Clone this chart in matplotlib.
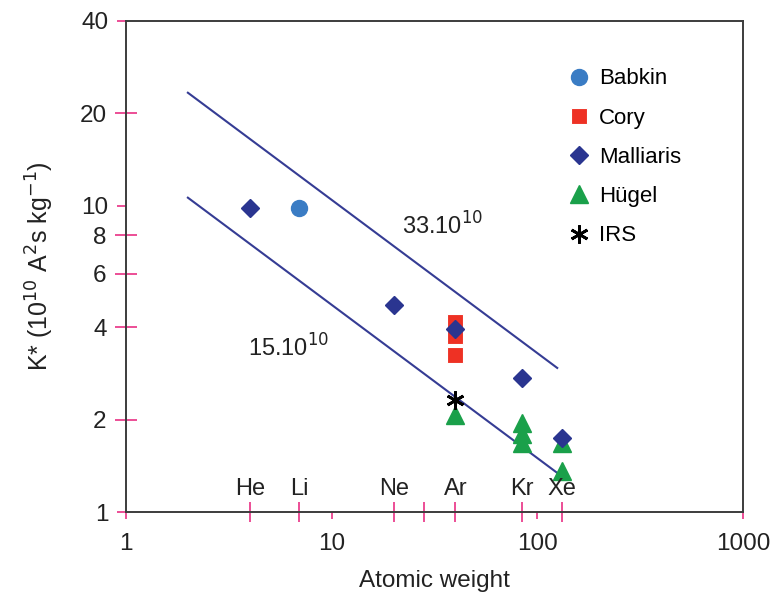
import numpy as np
from matplotlib import pyplot as plt
from matplotlib import ticker
from matplotlib.transforms import blended_transform_factory

plt.rcParams['font.family'] = ['Liberation Sans', 'DejaVu Sans']

# atomic weights of the marked elements
elements = ['He', 'Li', 'Ne', 'Ar', 'Kr', 'Xe']
element_mass = [4.0, 6.94, 20.18, 39.95, 83.8, 131.3]
extra_tick = [28.0]

# K* values, units of 1e10 A^2 s/kg
babkin_x, babkin_y = [6.94], [9.8]
cory_x, cory_y = [39.95, 39.95, 39.95], [4.17, 3.74, 3.26]
malliaris_x = [4.0, 20.18, 39.95, 83.8, 131.3]
malliaris_y = [9.8, 4.72, 3.95, 2.73, 1.75]
hugel_x = [39.95, 83.8, 83.8, 83.8, 131.3, 131.3]
hugel_y = [2.07, 1.95, 1.80, 1.68, 1.68, 1.36]
irs_x, irs_y = [39.95], [2.32]

# K* = C / sqrt(M) reference lines
line_consts = [33, 15]
line_mass = np.array([2.0, 125.0])

PINK = '#ec4e96'
SPINE = '#3c3c3c'
LINE = '#353c94'
TXT = '#222222'

fig = plt.figure(figsize=(7.8, 5.98), dpi=100)
ax = fig.add_axes([0.1615, 0.1438, 0.791, 0.8211])
ax.set_xscale('log')
ax.set_yscale('log')
ax.set_xlim(1, 1000)
ax.set_ylim(1, 40)

for c in line_consts:
    ax.plot(line_mass, c/np.sqrt(line_mass), c=LINE, lw=1.5, zorder=2)

ax.plot(babkin_x, babkin_y, 'o', ms=11.5, c='#3a7cc4', mec='#3a7cc4', ls='none', label='Babkin', zorder=3)
ax.plot(cory_x, cory_y, 's', ms=11, c='#ee3124', mec='white', mew=0.8, ls='none', label='Cory', zorder=3)
ax.plot(malliaris_x, malliaris_y, 'D', ms=9, c='#2a3590', mec='#2a3590', ls='none', label='Malliaris', zorder=4)
ax.plot(hugel_x, hugel_y, '^', ms=13, c='#1aa04a', mec='#1aa04a', ls='none', label='Hügel', zorder=3)
ax.plot(irs_x, irs_y, marker=(6, 2, 0), ms=13, mew=2, c='black', ls='none', label='IRS', zorder=5)

ax.text(22.1, 8.6, '33.10$^{10}$', fontsize=17, color=TXT, va='center', ha='left')
ax.text(3.91, 3.42, '15.10$^{10}$', fontsize=17, color=TXT, va='center', ha='left')

trans = blended_transform_factory(ax.transData, ax.transAxes)
for name, m in zip(elements, element_mass):
    ax.text(m, 0.046, name, transform=trans, fontsize=17, color=TXT, ha='center', va='center')

# axes styling
for s in ax.spines.values():
    s.set_color(SPINE)
    s.set_linewidth(1.4)

ax.xaxis.set_major_locator(ticker.FixedLocator([1, 10, 100, 1000]))
ax.xaxis.set_major_formatter(ticker.FixedFormatter(['1', '10', '100', '1000']))
ax.xaxis.set_minor_locator(ticker.FixedLocator(element_mass + extra_tick))
ax.xaxis.set_minor_formatter(ticker.NullFormatter())
ax.tick_params(axis='x', which='major', direction='out', length=5, width=1.4, color=PINK,
               pad=10, labelsize=17.5, labelcolor=TXT)
ax.tick_params(axis='x', which='minor', direction='inout', length=14, width=1.4, color=PINK)

ax.yaxis.set_major_locator(ticker.FixedLocator([1, 10, 40]))
ax.yaxis.set_major_formatter(ticker.FixedFormatter(['1', '10', '40']))
ax.yaxis.set_minor_locator(ticker.FixedLocator([2, 4, 6, 8, 20]))
ax.yaxis.set_minor_formatter(ticker.FixedFormatter(['2', '4', '6', '8', '20']))
ax.tick_params(axis='y', which='major', direction='out', length=6.5, width=1.4, color=PINK,
               pad=6, labelsize=17.5, labelcolor=TXT)
ax.tick_params(axis='y', which='minor', direction='inout', length=16, width=1.4, color=PINK,
               pad=6, labelsize=17.5, labelcolor=TXT)

ax.set_xlabel('Atomic weight', fontsize=17.5, color=TXT, labelpad=11)
ax.set_ylabel('K* (10$^{10}$ A$^2$s kg$^{-1}$)', fontsize=18, color=TXT, labelpad=17)

ax.legend(loc='upper left', bbox_to_anchor=(0.698, 0.926), frameon=False, fontsize=16,
          handlelength=1.0, handletextpad=0.4, labelspacing=0.82, borderpad=0, numpoints=1)

plt.savefig('out.png', dpi=100)
